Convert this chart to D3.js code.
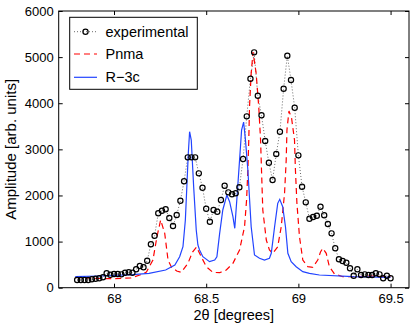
<!DOCTYPE html>
<html>
<head>
<meta charset="utf-8">
<script src="https://cdn.jsdelivr.net/npm/d3@7"></script>
<style>
  body { margin: 0; background: #fff; }
  text { font-family: "Liberation Sans", Arial, sans-serif; }
</style>
</head>
<body>
<svg id="chart" width="415" height="326"></svg>
<script>
// experimental points, 2theta from 67.80 to 69.50 in 0.02 steps
const expStart = 67.80, expStep = 0.02;
const expY = [167, 167, 167, 167, 182, 195, 204, 225, 312, 282,
  297, 297, 290, 325, 334, 325, 399, 470, 442, 585,
  941, 1127, 1613, 1669, 1700, 1511, 1338, 1576, 1886, 2307,
  2827, 2827, 2827, 2480, 2168, 1713, 1431, 1685, 1648, 1901,
  2211, 2068, 2025, 2047, 2177, 2790, 3716, 4531, 5103, 4163,
  3738, 3181, 2710, 2335, 2899, 3382, 4314, 5030, 4503, 3902,
  2870, 2190, 1851, 1496, 1533, 1561, 1756, 1570, 1381, 1179,
  854, 616, 579, 542, 421, 260, 399, 275, 290, 275,
  275, 312, 290, 204, 260, 204];

// Pnma model
const pnmaX = [67.79, 67.92, 67.99, 68.09, 68.14, 68.176, 68.211, 68.233, 68.253, 68.275,
  68.293, 68.311, 68.34, 68.365, 68.401, 68.426, 68.448, 68.473, 68.501, 68.536,
  68.573, 68.609, 68.645, 68.681, 68.708, 68.719, 68.726, 68.731, 68.735, 68.744,
  68.754, 68.771, 68.785, 68.795, 68.80, 68.807, 68.826, 68.843, 68.861, 68.888,
  68.907, 68.925, 68.934, 68.938, 68.949, 68.963, 68.979, 68.984, 68.992, 69.006,
  69.024, 69.051, 69.078, 69.105, 69.12, 69.132, 69.151, 69.168, 69.196, 69.241,
  69.313, 69.385, 69.50];
const pnmaY = [225, 200, 195, 210, 275, 340, 600, 1106, 1468, 1180,
  600, 450, 362, 334, 529, 774, 882, 672, 455, 334,
  325, 384, 529, 817, 1322, 1901, 2552, 3202, 3924, 4648,
  5110, 4648, 3924, 3202, 2552, 1685, 1034, 817, 746, 889,
  1322, 2047, 2769, 3419, 3831, 3679, 3202, 2552, 1836, 1106,
  600, 455, 442, 600, 774, 854, 746, 455, 297, 238,
  238, 254, 238];

// R-3c model
const r3cX = [67.79, 67.92, 68.10, 68.19, 68.28, 68.33, 68.356, 68.374, 68.387, 68.395,
  68.403, 68.41, 68.419, 68.432, 68.446, 68.455, 68.464, 68.482, 68.518, 68.546,
  68.558, 68.573, 68.59, 68.612, 68.627, 68.645, 68.655, 68.666, 68.681, 68.692,
  68.703, 68.713, 68.726, 68.744, 68.762, 68.789, 68.816, 68.843, 68.853, 68.871,
  68.888, 68.899, 68.915, 68.93, 68.943, 68.961, 68.988, 69.024, 69.06, 69.114,
  69.295, 69.50];
const r3cY = [238, 254, 282, 312, 384, 492, 672, 889, 1468, 2190,
  2914, 3382, 3202, 2190, 1251, 926, 817, 672, 564, 600,
  672, 1179, 1685, 2010, 1865, 1539, 1288, 1901, 2769, 3419,
  3592, 3202, 2552, 1322, 709, 637, 600, 637, 746, 1322,
  1830, 1916, 1756, 1322, 746, 564, 455, 347, 312, 275,
  238, 225];

const xTicks = [68, 68.5, 69, 69.5];
const yTicks = [0, 1000, 2000, 3000, 4000, 5000, 6000];
const legendNames = ["experimental", "Pnma", "R\u22123c"];

const svg = d3.select("#chart");
const plotL = 58.7, plotR = 409, plotT = 11, plotB = 287.7;

const x = d3.scaleLinear().domain([67.7, 69.6]).range([plotL, plotR]);
const y = d3.scaleLinear().domain([0, 6000]).range([plotB, plotT]);

const expData = expY.map((v, i) => [expStart + i * expStep, v]);
const pnmaData = pnmaX.map((v, i) => [v, pnmaY[i]]);
const r3cData = r3cX.map((v, i) => [v, r3cY[i]]);

const line = d3.line().x(d => x(d[0])).y(d => y(d[1]));

// axes (ticks inward, mirrored on top/right)
svg.append("g")
  .attr("transform", "translate(0," + plotB + ")")
  .call(d3.axisBottom(x).tickValues(xTicks).tickSize(-4).tickPadding(6).tickFormat(d3.format("")))
  .call(g => g.select(".domain").remove());
svg.append("g")
  .attr("transform", "translate(0," + plotT + ")")
  .call(d3.axisTop(x).tickValues(xTicks).tickSize(-4).tickFormat(""))
  .call(g => g.select(".domain").remove());
svg.append("g")
  .attr("transform", "translate(" + plotL + ",0)")
  .call(d3.axisLeft(y).tickValues(yTicks).tickSize(-4).tickPadding(5).tickFormat(d3.format("d")))
  .call(g => g.select(".domain").remove());
svg.append("g")
  .attr("transform", "translate(" + plotR + ",0)")
  .call(d3.axisRight(y).tickValues(yTicks).tickSize(-4).tickFormat(""))
  .call(g => g.select(".domain").remove());

svg.selectAll(".tick text").attr("font-size", 13).attr("fill", "#000")
  .attr("font-family", "Liberation Sans, Arial, sans-serif");
svg.selectAll(".tick line").attr("stroke", "#000");

svg.append("rect")
  .attr("x", plotL).attr("y", plotT)
  .attr("width", plotR - plotL).attr("height", plotB - plotT)
  .attr("fill", "none").attr("stroke", "#000").attr("stroke-width", 1);

// series
svg.append("path").datum(expData)
  .attr("d", line).attr("fill", "none")
  .attr("stroke", "#444").attr("stroke-width", 0.8).attr("stroke-dasharray", "1,2");

svg.append("path").datum(pnmaData)
  .attr("d", line).attr("fill", "none")
  .attr("stroke", "#ff0000").attr("stroke-width", 1.2).attr("stroke-dasharray", "6,4");

svg.append("path").datum(r3cData)
  .attr("d", line).attr("fill", "none")
  .attr("stroke", "#2244ff").attr("stroke-width", 1.2);

svg.append("g").selectAll("circle")
  .data(expData).enter()
  .append("circle")
  .attr("cx", d => x(d[0]))
  .attr("cy", d => y(d[1]))
  .attr("r", 2.6)
  .attr("fill", "none")
  .attr("stroke", "#000")
  .attr("stroke-width", 1.2);

// axis labels
svg.append("text")
  .attr("x", (plotL + plotR) / 2).attr("y", 319.5)
  .attr("text-anchor", "middle").attr("font-size", 14.5)
  .text("2\u03b8 [degrees]");
svg.append("text")
  .attr("transform", "translate(16," + ((plotT + plotB) / 2) + ") rotate(-90)")
  .attr("text-anchor", "middle").attr("font-size", 15)
  .text("Amplitude [arb. units]");

// legend
const leg = svg.append("g");
leg.append("rect")
  .attr("x", 69.7).attr("y", 17.3).attr("width", 127.6).attr("height", 72)
  .attr("fill", "#fff").attr("stroke", "#000").attr("stroke-width", 1);
const legY = [31.7, 54, 77.3];
const legStyles = [
  {stroke: "#444", dash: "1,2", width: 0.8},
  {stroke: "#ff0000", dash: "6,4", width: 1.2},
  {stroke: "#2244ff", dash: null, width: 1.2}
];
legendNames.forEach((name, i) => {
  leg.append("line")
    .attr("x1", 74).attr("x2", 97).attr("y1", legY[i]).attr("y2", legY[i])
    .attr("stroke", legStyles[i].stroke).attr("stroke-width", legStyles[i].width)
    .attr("stroke-dasharray", legStyles[i].dash);
  if (i == 0) {
    leg.append("circle").attr("cx", 85.5).attr("cy", legY[i]).attr("r", 2.6)
      .attr("fill", "none").attr("stroke", "#000").attr("stroke-width", 1.2);
  }
  leg.append("text")
    .attr("x", 105.5).attr("y", legY[i]).attr("dy", "0.35em")
    .attr("font-size", 14.5)
    .text(name);
});
</script>
</body>
</html>
